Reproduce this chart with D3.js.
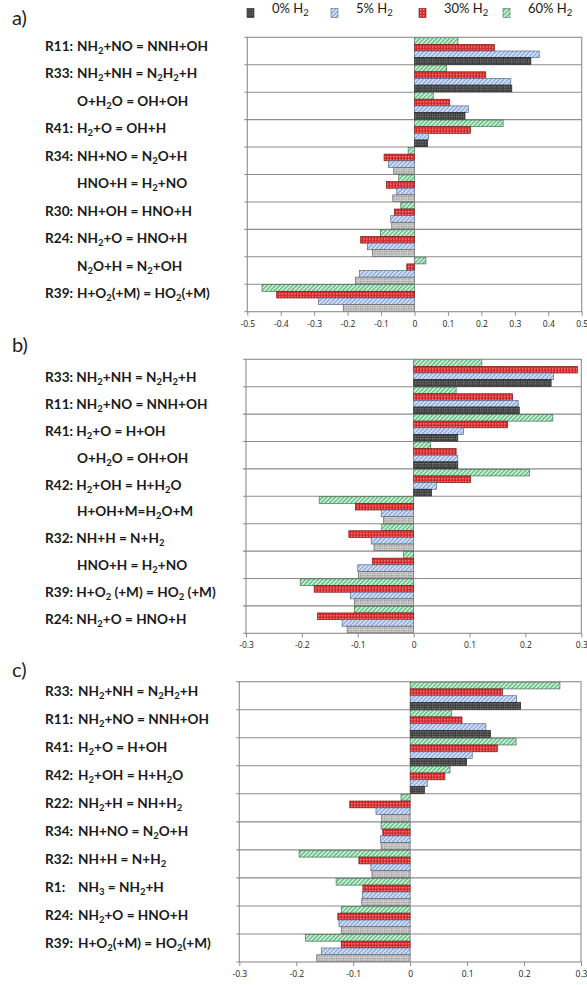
<!DOCTYPE html>
<html>
<head>
<meta charset="utf-8">
<script src="https://cdn.jsdelivr.net/npm/d3@7"></script>
<style>
  html, body { margin: 0; padding: 0; background: #fff; }
  svg { display: block; }
  .lbl { font-family: Lato, "Open Sans", sans-serif; font-weight: 700; font-size: 13.6px; fill: #1a1a1a; }
  .tick text { font-family: "Open Sans", sans-serif; font-size: 8.5px; fill: #222; }
</style>
</head>
<body>
<svg id="chart" width="587" height="985"></svg>
<script>
// series, top of legend order
const seriesKeys = ["h0", "h5", "h30", "h60"];
const seriesNames = ["0% H_2", "5% H_2", "30% H_2", "60% H_2"];

// panel a
const aLabels = ["R11: NH_2+NO = NNH+OH", "R33: NH_2+NH = N_2H_2+H", "O+H_2O = OH+OH", "R41: H_2+O = OH+H",
  "R34: NH+NO = N_2O+H", "HNO+H = H_2+NO", "R30: NH+OH = HNO+H", "R24: NH_2+O = HNO+H",
  "N_2O+H = N_2+OH", "R39: H+O_2(+M) = HO_2(+M)"];
const a0 = [0.348, 0.291, 0.151, 0.039, -0.062, -0.065, -0.068, -0.126, -0.177, -0.213];
const a5 = [0.373, 0.288, 0.161, 0.042, -0.078, -0.053, -0.071, -0.141, -0.165, -0.287];
const a30 = [0.239, 0.213, 0.105, 0.167, -0.091, -0.084, -0.060, -0.161, -0.023, -0.412];
const a60 = [0.130, 0.096, 0.056, 0.265, -0.019, -0.047, -0.041, -0.102, 0.034, -0.456];
const aTicks = [-0.5, -0.4, -0.3, -0.2, -0.1, 0, 0.1, 0.2, 0.3, 0.4, 0.5];

// panel b
const bLabels = ["R33: NH_2+NH = N_2H_2+H", "R11: NH_2+NO = NNH+OH", "R41: H_2+O = H+OH", "O+H_2O = OH+OH",
  "R42: H_2+OH = H+H_2O", "H+OH+M=H_2O+M", "R32: NH+H = N+H_2", "HNO+H = H_2+NO",
  "R39: H+O_2 (+M) = HO_2 (+M)", "R24: NH_2+O = HNO+H"];
const b0 = [0.246, 0.189, 0.079, 0.079, 0.032, -0.054, -0.071, -0.099, -0.106, -0.119];
const b5 = [0.250, 0.187, 0.089, 0.079, 0.041, -0.058, -0.076, -0.100, -0.113, -0.128];
const b30 = [0.293, 0.177, 0.168, 0.076, 0.102, -0.104, -0.116, -0.074, -0.178, -0.172];
const b60 = [0.122, 0.076, 0.249, 0.030, 0.207, -0.169, -0.057, -0.018, -0.203, -0.106];
const bTicks = [-0.3, -0.2, -0.1, 0, 0.1, 0.2, 0.3];

// panel c
const cLabels = ["R33: NH_2+NH = N_2H_2+H", "R11: NH_2+NO = NNH+OH", "R41: H_2+O = H+OH", "R42: H_2+OH = H+H_2O",
  "R22: NH_2+H = NH+H_2", "R34: NH+NO = N_2O+H", "R32: NH+H = N+H_2", "R1:   NH_3 = NH_2+H",
  "R24: NH_2+O = HNO+H", "R39: H+O_2(+M) = HO_2(+M)"];
const c0 = [0.194, 0.141, 0.099, 0.025, -0.050, -0.051, -0.067, -0.085, -0.121, -0.164];
const c5 = [0.187, 0.133, 0.109, 0.030, -0.060, -0.052, -0.069, -0.084, -0.125, -0.156];
const c30 = [0.162, 0.091, 0.153, 0.061, -0.106, -0.048, -0.090, -0.083, -0.127, -0.121];
const c60 = [0.263, 0.073, 0.186, 0.070, -0.016, -0.051, -0.195, -0.130, -0.121, -0.184];
const cTicks = [-0.3, -0.2, -0.1, 0, 0.1, 0.2, 0.3];

const svg = d3.select("#chart");
const defs = svg.append("defs");

// fill patterns, roughly what excel gives
function dotPattern(id, bg, fg, size) {
  const p = defs.append("pattern").attr("id", id).attr("patternUnits", "userSpaceOnUse")
    .attr("width", size).attr("height", size);
  p.append("rect").attr("width", size).attr("height", size).attr("fill", bg);
  p.append("rect").attr("width", size / 2).attr("height", size / 2).attr("fill", fg);
}
function hatchPattern(id, bg, fg) {
  const p = defs.append("pattern").attr("id", id).attr("patternUnits", "userSpaceOnUse")
    .attr("width", 3).attr("height", 3).attr("patternTransform", "rotate(45)");
  p.append("rect").attr("width", 3).attr("height", 3).attr("fill", bg);
  p.append("rect").attr("width", 1.4).attr("height", 3).attr("fill", fg);
}
dotPattern("p0", "#3b3b3b", "#8a8a8a", 2.4);
dotPattern("p0n", "#cfcfcf", "#8d8d8d", 2.4);
hatchPattern("p5", "#e4ecfa", "#7f9fd8");
dotPattern("p30", "#d42626", "#f08a8a", 3);
hatchPattern("p60", "#e2f7e8", "#4cb872");

const fills = { h0: "url(#p0)", h5: "url(#p5)", h30: "url(#p30)", h60: "url(#p60)" };
const strokes = { h0: "#222", h5: "#56698f", h30: "#7a1515", h60: "#4a6b55" };

// "_2" marks a subscript digit
function addLabel(g, x, y, str) {
  const t = g.append("text").attr("class", "lbl").attr("x", x).attr("y", y).attr("dy", "0.35em");
  let back = 0;
  str.split(/(_\d)/).filter(s => s.length).forEach(s => {
    if (s[0] === "_") {
      t.append("tspan").attr("dy", 3 + back).style("font-size", "9.5px").text(s.slice(1));
      back = -3;
    } else {
      t.append("tspan").attr("dy", back).text(s);
      back = 0;
    }
  });
  return t;
}

// legend
const legendX = [247, 331, 419, 503];
seriesKeys.forEach((k, i) => {
  svg.append("rect").attr("x", legendX[i]).attr("y", 8.5).attr("width", 7).attr("height", 9)
    .attr("fill", fills[k]).attr("stroke", strokes[k]).attr("stroke-width", 0.6);
  const t = addLabel(svg, legendX[i] + 25, 13, seriesNames[i]);
  t.style("font-weight", 400).style("font-size", "13px");
});

function drawPanel(cfg) {
  const rows = cfg.labels.map((l, i) => ({ label: l, h0: cfg.s0[i], h5: cfg.s5[i], h30: cfg.s30[i], h60: cfg.s60[i] }));
  const x = d3.scaleLinear().domain(cfg.domain).range([cfg.x0, cfg.x1]);
  const y = d3.scaleBand().domain(d3.range(rows.length)).range([cfg.y0, cfg.y1]);
  const inner = d3.scaleBand().domain(["h60", "h30", "h5", "h0"]).range([0, y.bandwidth()])
    .paddingOuter(0.06);

  const g = svg.append("g");

  // panel letter
  g.append("text").attr("x", 12).attr("y", cfg.letterY).attr("dy", "0.35em")
    .style("font-family", "Lato, sans-serif").style("font-size", "20px").style("fill", "#222")
    .text(cfg.letter);

  // row dividers + left ticks
  g.selectAll("line.div").data(d3.range(1, rows.length)).join("line")
    .attr("x1", cfg.x0 - 3).attr("x2", cfg.x1)
    .attr("y1", i => y(i)).attr("y2", i => y(i))
    .attr("stroke", "#8c8c8c").attr("stroke-width", 1.1);

  // bars
  const rowG = g.selectAll("g.row").data(rows).join("g")
    .attr("transform", (d, i) => `translate(0,${y(i)})`);
  rowG.selectAll("rect").data(d => ["h60", "h30", "h5", "h0"].map(k => ({ k, v: d[k] }))).join("rect")
    .attr("x", d => x(Math.min(0, d.v)))
    .attr("width", d => Math.abs(x(d.v) - x(0)))
    .attr("y", d => inner(d.k))
    .attr("height", inner.bandwidth())
    .attr("fill", d => (d.k === "h0" && d.v < 0) ? "url(#p0n)" : fills[d.k])
    .attr("stroke", d => (d.k === "h0" && d.v < 0) ? "#666" : strokes[d.k])
    .attr("stroke-width", 0.7);

  // frame
  g.append("rect").attr("x", cfg.x0).attr("y", cfg.y0)
    .attr("width", cfg.x1 - cfg.x0).attr("height", cfg.y1 - cfg.y0)
    .attr("fill", "none").attr("stroke", "#8c8c8c").attr("stroke-width", 1.1);
  g.selectAll("line.lt").data([0, rows.length]).join("line")
    .attr("x1", cfg.x0 - 3).attr("x2", cfg.x0)
    .attr("y1", i => i === 0 ? cfg.y0 : cfg.y1).attr("y2", i => i === 0 ? cfg.y0 : cfg.y1)
    .attr("stroke", "#8c8c8c");

  // value axis
  const ax = g.append("g").attr("transform", `translate(0,${cfg.y1})`)
    .call(d3.axisBottom(x).tickValues(cfg.ticks).tickSize(4).tickPadding(5)
      .tickFormat(d => d === 0 ? "0" : String(+d.toFixed(1))));
  ax.select(".domain").remove();
  ax.selectAll(".tick line").attr("stroke", "#8c8c8c");

  // reaction labels: prefix and equation set apart, unless joinPrefix
  rows.forEach((r, i) => {
    const ly = cfg.labelY0 != null ? cfg.labelY0 + i * cfg.labelStep : y(i) + y.bandwidth() / 2;
    const m = r.label.match(/^(R\d+:)\s*(.*)$/);
    if (m && cfg.joinPrefix) {
      addLabel(g, 45, ly, r.label);
    } else if (m) {
      addLabel(g, 45, ly, m[1]);
      addLabel(g, cfg.eqX, ly, m[2]);
    } else {
      addLabel(g, cfg.eqX, ly, r.label);
    }
  });
}

drawPanel({ letter: "a)", letterY: 18, labels: aLabels, s0: a0, s5: a5, s30: a30, s60: a60,
  domain: [-0.5, 0.5], ticks: aTicks, x0: 247.3, x1: 581.7, y0: 37.3, y1: 311.7, eqX: 77 });
drawPanel({ letter: "b)", letterY: 345, labels: bLabels, s0: b0, s5: b5, s30: b30, s60: b60,
  domain: [-0.3, 0.3], ticks: bTicks, x0: 246, x1: 581.3, y0: 359.3, y1: 633.3, eqX: 77,
  joinPrefix: true, labelY0: 382.3, labelStep: 26.8 });
drawPanel({ letter: "c)", letterY: 670, labels: cLabels, s0: c0, s5: c5, s30: c30, s60: c60,
  domain: [-0.3, 0.3], ticks: cTicks, x0: 239.3, x1: 581, y0: 681.7, y1: 962, eqX: 78 });
</script>
</body>
</html>
